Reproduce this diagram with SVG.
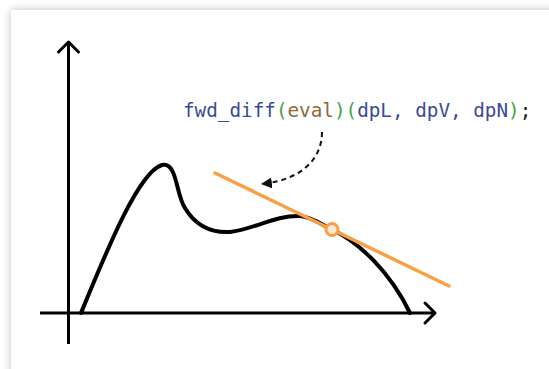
<svg xmlns="http://www.w3.org/2000/svg" width="549" height="369" viewBox="0 0 549 369">
  <defs>
    <filter id="shadow" x="-10%" y="-10%" width="120%" height="120%">
      <feDropShadow dx="0" dy="0" stdDeviation="4" flood-color="#000" flood-opacity="0.25"/>
    </filter>
    <marker id="dashHead" viewBox="0 0 10 10" refX="9" refY="5" markerWidth="5.5" markerHeight="5.5" orient="auto" markerUnits="strokeWidth">
      <path d="M0,0 L10,5 L0,10 z" fill="#111"/>
    </marker>
    <style>
      .axis { stroke: #000; stroke-width: 3; fill: none; stroke-linecap: butt; }
      .head { stroke: #000; stroke-width: 3; fill: none; stroke-linecap: round; stroke-linejoin: round; }
      .curve { stroke: #000; stroke-width: 4; fill: none; stroke-linecap: round; }
      .tangent { stroke: #f8a043; stroke-width: 3.5; fill: none; stroke-linecap: round; }
      .code { font-family: "DejaVu Sans Mono", "Liberation Mono", monospace; font-size: 19.3px; }
      .fn { fill: #3a4a9a; }
      .par { fill: #4aa04a; }
      .arg { fill: #8a6a38; }
      .pun { fill: #222; }
    </style>
  </defs>
  <rect x="0" y="0" width="549" height="369" fill="#fff"/>
  <rect x="11" y="10" width="560" height="380" fill="#fff" filter="url(#shadow)"/>

  <g id="axes">
    <line class="axis" x1="68.5" y1="42" x2="68.5" y2="344"/>
    <polyline class="head" points="58.5,52 68.5,42 78.5,52"/>
    <line class="axis" x1="40" y1="313" x2="435" y2="313"/>
    <polyline class="head" points="425,303 435,313 425,323"/>
  </g>

  <g id="curve">
    <path class="curve" d="M81,313 C105,255 138,172 162,165 C177,161 176,195 185,208 C195,225 210,233 230,232 C255,229 275,215 300,216 C312,217 322,224.7 332,229.5 C360,243 390,272 410,313"/>
  </g>

  <g id="tangent">
    <line class="tangent" x1="215" y1="173" x2="449" y2="286"/>
    <circle cx="332" cy="229.5" r="6" fill="#fde8d6" stroke="#f8a043" stroke-width="3"/>
  </g>

  <g id="label">
    <text class="code" x="183" y="117"><tspan class="fn">fwd_diff</tspan><tspan class="par">(</tspan><tspan class="arg">eval</tspan><tspan class="par">)(</tspan><tspan class="fn">dpL, dpV, dpN</tspan><tspan class="par">)</tspan><tspan class="pun">;</tspan></text>
  </g>

  <g id="connectors">
    <path d="M322,132 C322,160 300,180 262,184" fill="none" stroke="#111" stroke-width="2" stroke-dasharray="5,4" marker-end="url(#dashHead)"/>
  </g>
</svg>
